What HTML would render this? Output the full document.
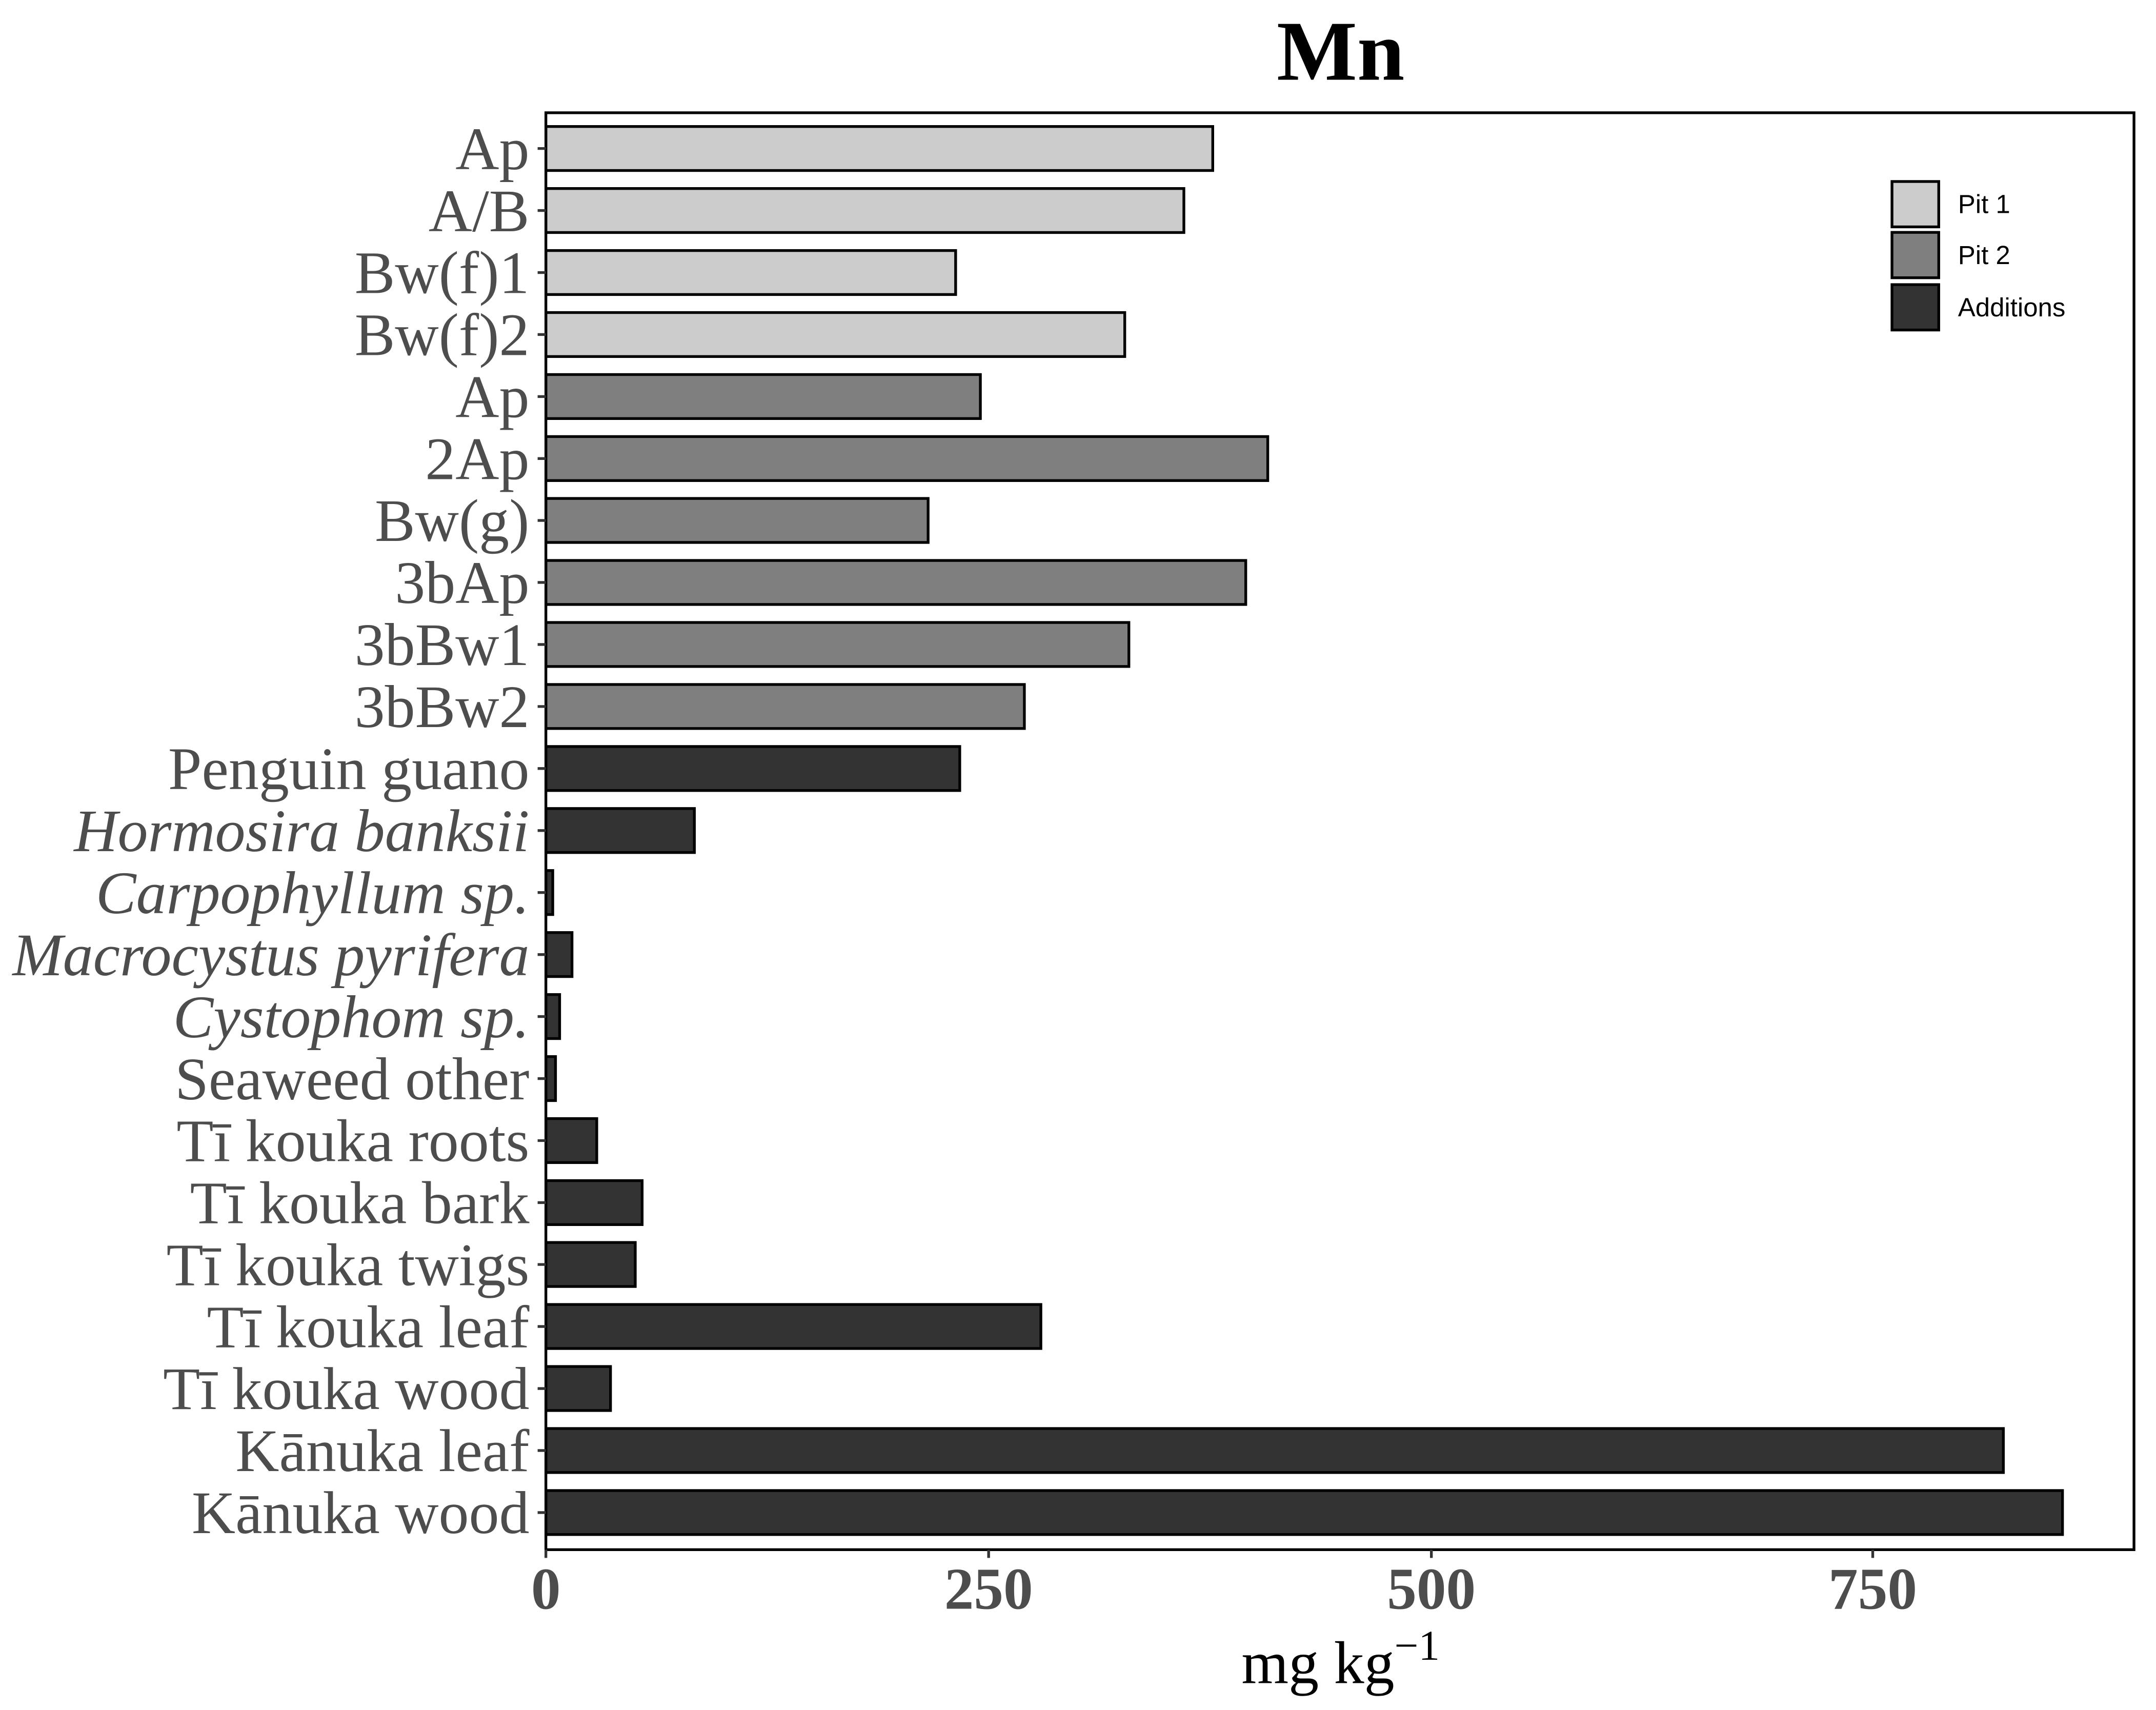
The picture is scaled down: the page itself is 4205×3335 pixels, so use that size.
<!DOCTYPE html>
<html><head><meta charset="utf-8"><style>html,body{margin:0;padding:0;background:#fff}svg{display:block}</style></head>
<body>
<svg width="4205" height="3335" viewBox="0 0 1568 1243.6" xmlns="http://www.w3.org/2000/svg">
<rect width="1568" height="1243.6" fill="#fff"/>
<text x="975" y="58" font-family="Liberation Serif, serif" font-weight="bold" font-size="62" text-anchor="middle">Mn</text>
<g stroke="#000" stroke-width="2">
<rect x="397" y="92" width="485" height="32" fill="#cccccc"/>
<rect x="397" y="137.1" width="464" height="32" fill="#cccccc"/>
<rect x="397" y="182.2" width="298" height="32" fill="#cccccc"/>
<rect x="397" y="227.3" width="421" height="32" fill="#cccccc"/>
<rect x="397" y="272.4" width="316" height="32" fill="#7f7f7f"/>
<rect x="397" y="317.5" width="525" height="32" fill="#7f7f7f"/>
<rect x="397" y="362.5" width="278" height="32" fill="#7f7f7f"/>
<rect x="397" y="407.6" width="509" height="32" fill="#7f7f7f"/>
<rect x="397" y="452.7" width="424" height="32" fill="#7f7f7f"/>
<rect x="397" y="497.8" width="348" height="32" fill="#7f7f7f"/>
<rect x="397" y="542.9" width="301" height="32" fill="#333333"/>
<rect x="397" y="588" width="108" height="32" fill="#333333"/>
<rect x="397" y="633.1" width="5" height="32" fill="#333333"/>
<rect x="397" y="678.2" width="19" height="32" fill="#333333"/>
<rect x="397" y="723.3" width="10" height="32" fill="#333333"/>
<rect x="397" y="768.4" width="7" height="32" fill="#333333"/>
<rect x="397" y="813.5" width="37" height="32" fill="#333333"/>
<rect x="397" y="858.6" width="70" height="32" fill="#333333"/>
<rect x="397" y="903.6" width="65" height="32" fill="#333333"/>
<rect x="397" y="948.7" width="360" height="32" fill="#333333"/>
<rect x="397" y="993.8" width="47" height="32" fill="#333333"/>
<rect x="397" y="1038.9" width="1060" height="32" fill="#333333"/>
<rect x="397" y="1084" width="1103" height="32" fill="#333333"/>
</g>
<rect x="397" y="82" width="1155" height="1045" fill="none" stroke="#000" stroke-width="2"/>
<g stroke="#333" stroke-width="2">
<line x1="391" x2="397" y1="108" y2="108"/><line x1="391" x2="397" y1="153.1" y2="153.1"/><line x1="391" x2="397" y1="198.2" y2="198.2"/><line x1="391" x2="397" y1="243.3" y2="243.3"/><line x1="391" x2="397" y1="288.4" y2="288.4"/><line x1="391" x2="397" y1="333.5" y2="333.5"/><line x1="391" x2="397" y1="378.5" y2="378.5"/><line x1="391" x2="397" y1="423.6" y2="423.6"/><line x1="391" x2="397" y1="468.7" y2="468.7"/><line x1="391" x2="397" y1="513.8" y2="513.8"/><line x1="391" x2="397" y1="558.9" y2="558.9"/><line x1="391" x2="397" y1="604" y2="604"/><line x1="391" x2="397" y1="649.1" y2="649.1"/><line x1="391" x2="397" y1="694.2" y2="694.2"/><line x1="391" x2="397" y1="739.3" y2="739.3"/><line x1="391" x2="397" y1="784.4" y2="784.4"/><line x1="391" x2="397" y1="829.5" y2="829.5"/><line x1="391" x2="397" y1="874.6" y2="874.6"/><line x1="391" x2="397" y1="919.6" y2="919.6"/><line x1="391" x2="397" y1="964.7" y2="964.7"/><line x1="391" x2="397" y1="1009.8" y2="1009.8"/><line x1="391" x2="397" y1="1054.9" y2="1054.9"/><line x1="391" x2="397" y1="1100" y2="1100"/>
<line x1="397" x2="397" y1="1127" y2="1133"/><line x1="719" x2="719" y1="1127" y2="1133"/><line x1="1041" x2="1041" y1="1127" y2="1133"/><line x1="1362" x2="1362" y1="1127" y2="1133"/>
</g>
<g font-family="Liberation Serif, serif" font-size="44" fill="#4d4d4d" text-anchor="end" transform="translate(0,3)">
<text x="385" y="120">Ap</text><text x="385" y="165.1">A/B</text><text x="385" y="210.2">Bw(f)1</text><text x="385" y="255.3">Bw(f)2</text><text x="385" y="300.4">Ap</text><text x="385" y="345.5">2Ap</text><text x="385" y="390.5">Bw(g)</text><text x="385" y="435.6">3bAp</text><text x="385" y="480.7">3bBw1</text><text x="385" y="525.8">3bBw2</text><text x="385" y="570.9">Penguin guano</text>
<text x="385" y="616" font-style="italic">Hormosira banksii</text><text x="385" y="661.1" font-style="italic">Carpophyllum sp.</text><text x="385" y="706.2" font-style="italic">Macrocystus pyrifera</text><text x="385" y="751.3" font-style="italic">Cystophom sp.</text>
<text x="385" y="796.4">Seaweed other</text><text x="385" y="841.5">Tī kouka roots</text><text x="385" y="886.6">Tī kouka bark</text><text x="385" y="931.6">Tī kouka twigs</text><text x="385" y="976.7">Tī kouka leaf</text><text x="385" y="1021.8">Tī kouka wood</text><text x="385" y="1066.9">Kānuka leaf</text><text x="385" y="1112">Kānuka wood</text>
</g>
<g font-family="Liberation Serif, serif" font-size="43" font-weight="bold" fill="#4d4d4d" text-anchor="middle">
<text x="397" y="1170">0</text><text x="719" y="1170">250</text><text x="1041" y="1170">500</text><text x="1362" y="1170">750</text>
</g>
<text x="975" y="1224" font-family="Liberation Serif, serif" font-size="44" text-anchor="middle">mg kg<tspan dy="-17" font-size="31">−1</tspan></text>
<g stroke="#000" stroke-width="2">
<rect x="1376" y="132" width="34" height="33" fill="#cccccc"/>
<rect x="1376" y="169" width="34" height="33" fill="#7f7f7f"/>
<rect x="1376" y="207" width="34" height="33" fill="#333333"/>
</g>
<g font-family="Liberation Sans, sans-serif" font-size="19" fill="#000">
<text x="1424" y="155">Pit 1</text><text x="1424" y="192">Pit 2</text><text x="1424" y="230">Additions</text>
</g>
</svg>
</body></html>
